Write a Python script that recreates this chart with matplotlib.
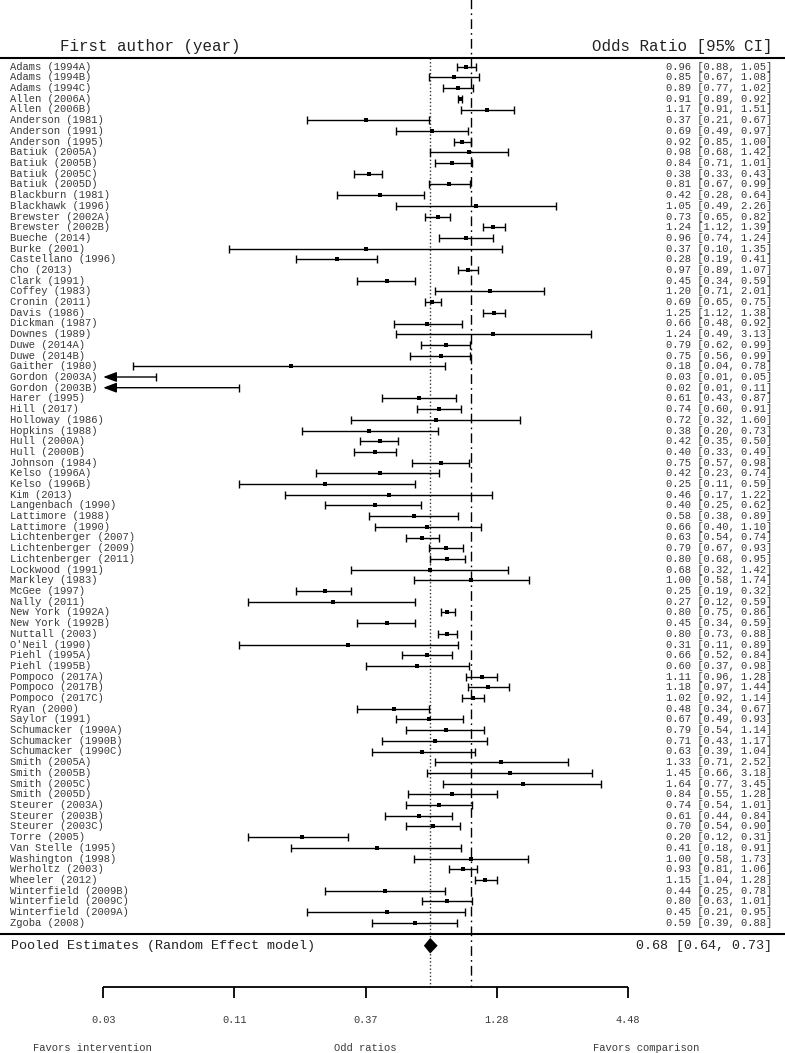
import numpy as np
import matplotlib
matplotlib.use("Agg")
import matplotlib.pyplot as plt

studies = ["Adams (1994A)", "Adams (1994B)", "Adams (1994C)", "Allen (2006A)", "Allen (2006B)",
           "Anderson (1981)", "Anderson (1991)", "Anderson (1995)", "Batiuk (2005A)", "Batiuk (2005B)",
           "Batiuk (2005C)", "Batiuk (2005D)", "Blackburn (1981)", "Blackhawk (1996)", "Brewster (2002A)",
           "Brewster (2002B)", "Bueche (2014)", "Burke (2001)", "Castellano (1996)", "Cho (2013)",
           "Clark (1991)", "Coffey (1983)", "Cronin (2011)", "Davis (1986)", "Dickman (1987)",
           "Downes (1989)", "Duwe (2014A)", "Duwe (2014B)", "Gaither (1980)", "Gordon (2003A)",
           "Gordon (2003B)", "Harer (1995)", "Hill (2017)", "Holloway (1986)", "Hopkins (1988)",
           "Hull (2000A)", "Hull (2000B)", "Johnson (1984)", "Kelso (1996A)", "Kelso (1996B)",
           "Kim (2013)", "Langenbach (1990)", "Lattimore (1988)", "Lattimore (1990)", "Lichtenberger (2007)",
           "Lichtenberger (2009)", "Lichtenberger (2011)", "Lockwood (1991)", "Markley (1983)", "McGee (1997)",
           "Nally (2011)", "New York (1992A)", "New York (1992B)", "Nuttall (2003)", "O'Neil (1990)",
           "Piehl (1995A)", "Piehl (1995B)", "Pompoco (2017A)", "Pompoco (2017B)", "Pompoco (2017C)",
           "Ryan (2000)", "Saylor (1991)", "Schumacker (1990A)", "Schumacker (1990B)", "Schumacker (1990C)",
           "Smith (2005A)", "Smith (2005B)", "Smith (2005C)", "Smith (2005D)", "Steurer (2003A)",
           "Steurer (2003B)", "Steurer (2003C)", "Torre (2005)", "Van Stelle (1995)", "Washington (1998)",
           "Werholtz (2003)", "Wheeler (2012)", "Winterfield (2009B)", "Winterfield (2009C)", "Winterfield (2009A)",
           "Zgoba (2008)"]

odds = [0.96, 0.85, 0.89, 0.91, 1.17, 0.37, 0.69, 0.92, 0.98, 0.84,
        0.38, 0.81, 0.42, 1.05, 0.73, 1.24, 0.96, 0.37, 0.28, 0.97,
        0.45, 1.20, 0.69, 1.25, 0.66, 1.24, 0.79, 0.75, 0.18, 0.03,
        0.02, 0.61, 0.74, 0.72, 0.38, 0.42, 0.40, 0.75, 0.42, 0.25,
        0.46, 0.40, 0.58, 0.66, 0.63, 0.79, 0.80, 0.68, 1.00, 0.25,
        0.27, 0.80, 0.45, 0.80, 0.31, 0.66, 0.60, 1.11, 1.18, 1.02,
        0.48, 0.67, 0.79, 0.71, 0.63, 1.33, 1.45, 1.64, 0.84, 0.74,
        0.61, 0.70, 0.20, 0.41, 1.00, 0.93, 1.15, 0.44, 0.80, 0.45,
        0.59]
lower = [0.88, 0.67, 0.77, 0.89, 0.91, 0.21, 0.49, 0.85, 0.68, 0.71,
         0.33, 0.67, 0.28, 0.49, 0.65, 1.12, 0.74, 0.10, 0.19, 0.89,
         0.34, 0.71, 0.65, 1.12, 0.48, 0.49, 0.62, 0.56, 0.04, 0.01,
         0.01, 0.43, 0.60, 0.32, 0.20, 0.35, 0.33, 0.57, 0.23, 0.11,
         0.17, 0.25, 0.38, 0.40, 0.54, 0.67, 0.68, 0.32, 0.58, 0.19,
         0.12, 0.75, 0.34, 0.73, 0.11, 0.52, 0.37, 0.96, 0.97, 0.92,
         0.34, 0.49, 0.54, 0.43, 0.39, 0.71, 0.66, 0.77, 0.55, 0.54,
         0.44, 0.54, 0.12, 0.18, 0.58, 0.81, 1.04, 0.25, 0.63, 0.21,
         0.39]
upper = [1.05, 1.08, 1.02, 0.92, 1.51, 0.67, 0.97, 1.00, 1.42, 1.01,
         0.43, 0.99, 0.64, 2.26, 0.82, 1.39, 1.24, 1.35, 0.41, 1.07,
         0.59, 2.01, 0.75, 1.38, 0.92, 3.13, 0.99, 0.99, 0.78, 0.05,
         0.11, 0.87, 0.91, 1.60, 0.73, 0.50, 0.49, 0.98, 0.74, 0.59,
         1.22, 0.62, 0.89, 1.10, 0.74, 0.93, 0.95, 1.42, 1.74, 0.32,
         0.59, 0.86, 0.59, 0.88, 0.89, 0.84, 0.98, 1.28, 1.44, 1.14,
         0.67, 0.93, 1.14, 1.17, 1.04, 2.52, 3.18, 3.45, 1.28, 1.01,
         0.84, 0.90, 0.31, 0.91, 1.73, 1.06, 1.28, 0.78, 1.01, 0.95,
         0.88]

pooled = [0.68, 0.64, 0.73]
tick_log = [-3.5, -2.25, -1.0, 0.25, 1.5]
tick_labels = ["0.03", "0.11", "0.37", "1.28", "4.48"]

FONT = ["Liberation Mono", "DejaVu Sans Mono"]
plt.rcParams['font.family'] = FONT

W, H = 785, 1053
fig = plt.figure(figsize=(W / 100, H / 100), dpi=100)
ax = fig.add_axes([0, 0, 1, 1])
ax.set_xscale('log')
ax.set_xlim(np.exp(-4.483), np.exp(2.993))
row0_px, row_px = 66.7, 10.7
ax.set_ylim((H - row0_px) / row_px, -row0_px / row_px)
ax.axis('off')

def ypx(p):
    return (p - row0_px) / row_px

def xf(p):
    return p / W

tr = ax.get_yaxis_transform()  # x in axes fraction, y in data
n = len(studies)
alim_lo = np.exp(tick_log[0])
TXT = '#3a3a3a'

y_head = ypx(46.7)
y_hline = ypx(58.3)
y_sep = ypx(934.3)
y_pool = ypx(945.7)
y_axis = ypx(987.3)
y_tick = ypx(997.5)
y_ticklab = ypx(1020)
y_bottom = ypx(1048)

# reference lines
ax.vlines(1.0, ypx(0) - 1, y_axis, colors='black', linestyles=(0, (7, 3, 1.2, 3)), lw=1.0, zorder=1)
ax.vlines(pooled[0], y_hline, y_axis, colors='#333333', linestyles=(0, (1, 1.6)), lw=1.0, zorder=1)

# header / separators
ax.axhline(y_hline, color='black', lw=1.5)
ax.axhline(y_sep, color='black', lw=1.5)
ax.text(xf(60), y_head, "First author (year)", transform=tr, ha='left', va='center', fontsize=11.4, color='#222222')
ax.text(xf(772), y_head, "Odds Ratio [95% CI]", transform=tr, ha='right', va='center', fontsize=11.4, color='#222222')

# studies
for i in range(n):
    o, lo, hi = odds[i], lower[i], upper[i]
    if lo < alim_lo:
        ax.annotate('', xy=(alim_lo, i), xytext=(hi, i),
                    arrowprops=dict(arrowstyle='-|>,head_length=0.8,head_width=0.3',
                                    color='black', lw=1.0, shrinkA=0, shrinkB=0))
        ax.plot([hi], [i], marker='|', ms=6, mew=1.0, color='black')
    else:
        ax.hlines(i, lo, hi, colors='black', lw=1.0)
        ax.plot([lo, hi], [i, i], ls='none', marker='|', ms=6, mew=1.0, color='black')
    if o >= alim_lo:
        ax.plot([o], [i], marker='s', ms=3.4, color='black', mew=0)
    ax.text(xf(10), i, studies[i], transform=tr, ha='left', va='center', fontsize=7.6, color=TXT)
    ax.text(xf(772), i, f"{o:.2f} [{lo:.2f}, {hi:.2f}]", transform=tr, ha='right', va='center',
            fontsize=7.6, color=TXT)

# pooled diamond
po, plo, phi = pooled
dh = 7.8 / row_px
ax.fill([plo, po, phi, po], [y_pool, y_pool - dh, y_pool, y_pool + dh], color='black', lw=0)
ax.text(xf(11), y_pool, "Pooled Estimates (Random Effect model)", transform=tr, ha='left', va='center',
        fontsize=9.6, color='#222222')
ax.text(xf(772), y_pool, f"{po:.2f} [{plo:.2f}, {phi:.2f}]", transform=tr, ha='right', va='center',
        fontsize=9.6, color='#222222')

# custom axis
ticks = np.exp(tick_log)
ax.hlines(y_axis, ticks[0], ticks[-1], colors='black', lw=1.3)
ax.vlines(ticks, y_axis, y_tick, colors='black', lw=1.3)
for t, lab in zip(ticks, tick_labels):
    ax.text(t, y_ticklab, lab, ha='center', va='center', fontsize=7.4, color=TXT)

ax.text(xf(92), y_bottom, "Favors intervention", transform=tr, ha='center', va='center', fontsize=7.6, color=TXT)
ax.text(np.exp(tick_log[2]), y_bottom, "Odd ratios", ha='center', va='center', fontsize=7.6, color=TXT)
ax.text(xf(646), y_bottom, "Favors comparison", transform=tr, ha='center', va='center', fontsize=7.6, color=TXT)

fig.savefig("out.png", dpi=100)
